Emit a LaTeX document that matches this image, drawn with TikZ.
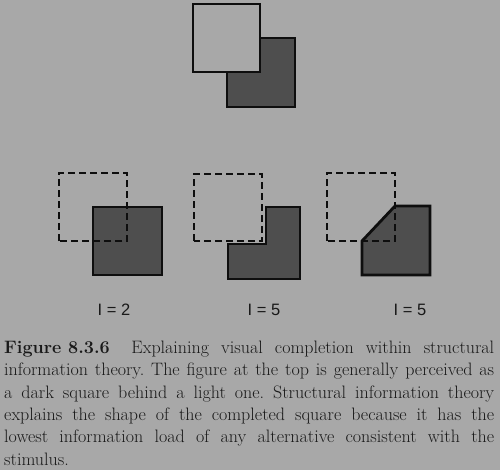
\documentclass[tikz,border=0pt]{standalone}
\usepackage{fontspec}
\newfontfamily\labelfont{Liberation Sans}
\definecolor{bgc}{RGB}{168,168,168}
\definecolor{darkc}{RGB}{78,78,78}
\definecolor{linec}{RGB}{14,14,14}
\definecolor{textc}{RGB}{25,25,25}
\begin{document}
\begin{tikzpicture}[x=1bp,y=-1bp,
  darkshape/.style={fill=darkc, draw=linec, line width=2.8bp, line join=miter},
  lightsq/.style={fill=bgc, draw=linec, line width=2.8bp},
  dashsq/.style={draw=linec, line width=2.6bp, dash pattern=on 7bp off 4bp},
  loadlabel/.style={font=\labelfont\fontsize{16.5bp}{18bp}\selectfont, text=textc, inner sep=0pt, anchor=base}
]
\fill[bgc] (0,0) rectangle (500,470);
\useasboundingbox (0,0) rectangle (500,470);

% top figure
\draw[darkshape] (227,38) rectangle (295,107);
\draw[lightsq] (193,4) rectangle (260,72);

% panel 1
\draw[darkshape] (93,207) rectangle (162,275);
\draw[dashsq] (59,241) -- (59,173) -- (127,173) -- (127,241) -- cycle;
\node[loadlabel] (l1) at (114,315) {I = 2};

% panel 2
\draw[darkshape] (266,207) -- (300,207) -- (300,279) -- (228,279) -- (228,244) -- (266,244) -- cycle;
\draw[dashsq] (194,241) -- (194,174) -- (262,174) -- (262,241) -- cycle;
\node[loadlabel] (l2) at (264,315) {I = 5};

% panel 3
\draw[darkshape] (395,206) -- (430,206) -- (430,275) -- (362,275) -- (362,241) -- cycle;
\draw[dashsq] (327,241) -- (327,173) -- (395,173) -- (395,241) -- cycle;
\node[loadlabel] (l3) at (410,315) {I = 5};

% caption
\node[anchor=north west, text width=490bp, align=justify, inner sep=0pt, text=textc,
      font=\fontsize{18bp}{22.3bp}\selectfont\frenchspacing] (cap) at (4,341)
{\mbox{\textbf{Figure 8.3.6}\hspace{1.2em}}Explaining visual completion within structural\linebreak
information theory. The figure at the top is generally perceived as\linebreak
a dark square behind a light one. Structural information theory\linebreak
explains the shape of the completed square because it has the\linebreak
lowest information load of any alternative consistent with the\linebreak
stimulus.};
\end{tikzpicture}
\end{document}
